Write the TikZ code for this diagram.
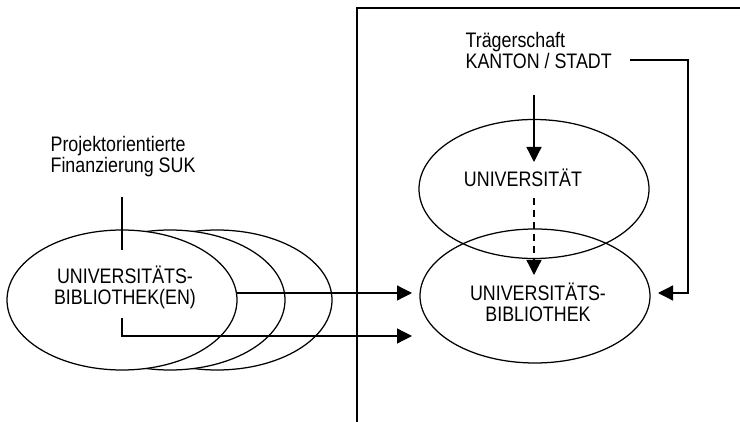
\documentclass[tikz,border=0pt]{standalone}
\usepackage{fontspec}
\setmainfont{Liberation Sans}[FakeStretch=0.85]
\usetikzlibrary{shapes.geometric,arrows.meta}
\begin{document}
\begin{tikzpicture}[x=1pt,y=-1pt,line width=1.25pt,
  ell/.style={draw, ellipse, minimum width=230pt, minimum height=140pt, inner sep=0pt, fill=white},
  lbl/.style={font=\fontsize{21}{21}\selectfont, inner sep=0pt},
  arr/.style={-{Triangle[length=15pt,width=15pt]}},
  dsh/.style={dash pattern=on 7pt off 5pt}]
\useasboundingbox (0,0) rectangle (740,422);
% frame
\coordinate (fr1) at (740,8);
\coordinate (fr2) at (357,8);
\coordinate (fr3) at (357,422);
\draw (fr1) -- (fr2) -- (fr3);
% left ellipses
\node[ell] (e3) at (217,300) {};
\node[ell] (e2) at (170,300) {};
\node[ell] (e1) at (122,300) {};
\node[lbl, align=center] (ubs) at (125,287) {UNIVERSITÄTS-\\BIBLIOTHEK(EN)};
\node[lbl, align=left, anchor=west] (suk) at (50,157) {Projektorientierte\\Finanzierung SUK};
% right ellipses
\node[ell, fill=none, minimum height=139pt] (uni) at (534,189) {};
\node[ell, fill=none, minimum height=134pt] (ub) at (535,296) {};
\node[lbl] (unit) at (523,178) {UNIVERSITÄT};
\node[lbl, align=center] (ubt) at (538,302) {UNIVERSITÄTS-\\BIBLIOTHEK};
\node[lbl, align=left, anchor=west] (kanton) at (465,50) {Trägerschaft\\KANTON / STADT};
% connectors
\coordinate (s1) at (122,197);
\coordinate (s2) at (122,250);
\draw (s1) -- (s2);
\coordinate (a1) at (237,293);
\coordinate (a1t) at (412,293);
\draw[arr] (a1) -- (a1t);
\coordinate (b1) at (122,318);
\coordinate (b2) at (122,336);
\coordinate (b2t) at (412,336);
\draw[arr] (b1) -- (b2) -- (b2t);
\coordinate (t1) at (534,95);
\coordinate (t1t) at (534,162);
\draw[arr] (t1) -- (t1t);
\coordinate (d1) at (534,198);
\coordinate (d1t) at (534,275);
\draw[arr, dsh] (d1) -- (d1t);
\coordinate (k1) at (630,60);
\coordinate (k2) at (688,60);
\coordinate (k3) at (688,293);
\coordinate (k4) at (658,293);
\draw[arr] (k1) -- (k2) -- (k3) -- (k4);
\end{tikzpicture}
\end{document}
